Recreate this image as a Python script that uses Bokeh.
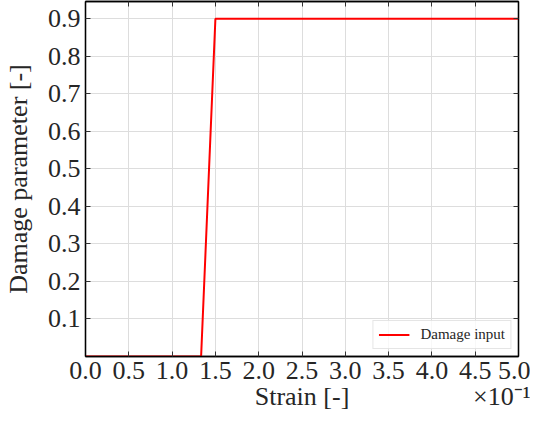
from bokeh.plotting import figure
from bokeh.models import (Range1d, FixedTicker, LinearAxis, CustomJSTickFormatter,
                          Legend, LegendItem)
from bokeh.embed import file_html
from bokeh.resources import INLINE

strain = [0.0, 0.1335, 0.15, 0.5]
damage = [0.0, 0.0, 0.9, 0.9]
x_ticks = [0.0, 0.05, 0.1, 0.15, 0.2, 0.25, 0.3, 0.35, 0.4, 0.45, 0.5]
y_ticks = [0.1, 0.2, 0.3, 0.4, 0.5, 0.6, 0.7, 0.8, 0.9]
x_label = "Strain [-]"
y_label = "Damage parameter [-]"
offset_text = "×10⁻¹"
x_label_at = 0.25
offset_at = 0.4857

FONT = "Liberation Serif"
TXT = "#262626"

p = figure(width=530, height=413, output_backend="svg", toolbar_location=None,
           x_range=Range1d(0, 0.5), y_range=Range1d(0, 0.946),
           min_border_top=1, min_border_right=12, min_border_bottom=0, min_border_left=0)
p.background_fill_color = "white"
p.border_fill_color = "white"
p.outline_line_color = "black"
p.outline_line_width = 1.3

r = p.line(strain, damage, line_color="red", line_width=2)

p.xaxis.ticker = FixedTicker(ticks=x_ticks)
p.xaxis.formatter = CustomJSTickFormatter(code="return (tick*10).toFixed(1);")
p.yaxis.ticker = FixedTicker(ticks=y_ticks)

for ax in [p.xaxis[0], p.yaxis[0]]:
    ax.major_tick_in = 5
    ax.major_tick_out = 0
    ax.minor_tick_in = 0
    ax.minor_tick_out = 0
    ax.major_tick_line_color = "#333333"
    ax.axis_line_color = "black"
    ax.axis_line_width = 1.3
    ax.major_label_text_font = FONT
    ax.major_label_text_font_size = "26px"
    ax.major_label_text_color = TXT
    ax.axis_label_text_font = FONT
    ax.axis_label_text_font_size = "26px"
    ax.axis_label_text_font_style = "normal"
    ax.axis_label_text_color = TXT

p.yaxis.axis_label = y_label
p.xaxis.major_label_standoff = 5
p.yaxis.major_label_standoff = 5
p.yaxis.axis_label_standoff = 12

# second row under the x axis: axis title centred and the offset text at the right
label_axis = LinearAxis(ticker=FixedTicker(ticks=[x_label_at, offset_at]),
                        major_label_overrides={x_label_at: x_label, offset_at: offset_text})
label_axis.axis_line_color = None
label_axis.major_tick_line_color = None
label_axis.minor_tick_line_color = None
label_axis.major_tick_in = 0
label_axis.major_tick_out = 0
label_axis.minor_tick_in = 0
label_axis.minor_tick_out = 0
label_axis.major_label_standoff = 0
label_axis.major_label_text_font = FONT
label_axis.major_label_text_font_size = "26px"
label_axis.major_label_text_color = TXT
p.add_layout(label_axis, "below")

empty = CustomJSTickFormatter(code="return '';")
top = LinearAxis(ticker=FixedTicker(ticks=x_ticks), formatter=empty)
right = LinearAxis(ticker=FixedTicker(ticks=y_ticks), formatter=empty)
for ax in [top, right]:
    ax.major_tick_in = 5
    ax.major_tick_out = 0
    ax.minor_tick_in = 0
    ax.minor_tick_out = 0
    ax.major_tick_line_color = "#333333"
    ax.axis_line_color = "black"
    ax.axis_line_width = 1.3
    ax.major_label_text_font_size = "1px"
    ax.major_label_standoff = 0
p.add_layout(top, "above")
p.add_layout(right, "right")

p.xgrid.grid_line_color = "#dddddd"
p.ygrid.grid_line_color = "#dddddd"
p.xgrid.grid_line_width = 1
p.ygrid.grid_line_width = 1

legend = Legend(items=[LegendItem(label="Damage input", renderers=[r])],
                location="bottom_right")
legend.label_text_font = FONT
legend.label_text_font_size = "15px"
legend.label_text_color = TXT
legend.glyph_width = 31
legend.glyph_height = 15
legend.label_height = 15
legend.label_standoff = 11
legend.padding = 5
legend.margin = 7
legend.border_line_color = "#cccccc"
legend.border_line_width = 1
legend.background_fill_alpha = 0.8
p.add_layout(legend)

open("out.html", "w").write(file_html(p, INLINE))
